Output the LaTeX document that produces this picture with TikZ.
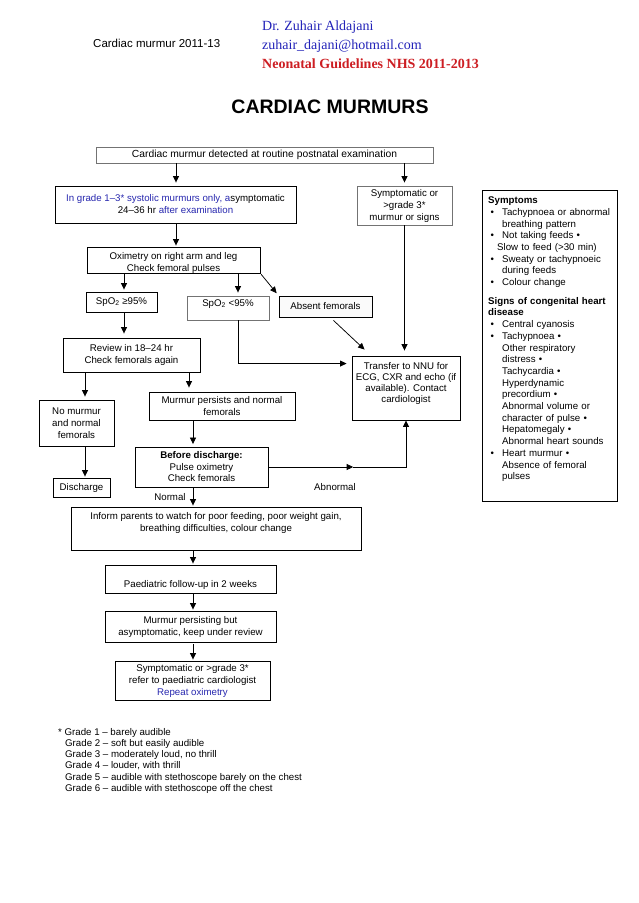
\documentclass[tikz,border=0pt]{standalone}
\usepackage{fontspec}
\setmainfont{Liberation Sans}
\newfontfamily\serifhd{Liberation Serif}
\usetikzlibrary{arrows.meta,calc}
\definecolor{dblue}{RGB}{40,40,175}
\definecolor{hblue}{RGB}{35,35,185}
\definecolor{hred}{RGB}{205,30,35}
\newcommand{\bxf}{\fontsize{9.7}{12}\selectfont}
\newcommand{\bul}{\makebox[14pt][l]{\hspace{2.5pt}\textbullet}}
\newcommand{\ind}{\hspace*{14pt}}
\begin{document}
\begin{tikzpicture}[x=1pt,y=-1pt,
  box/.style={draw, line width=0.9pt, rectangle, inner sep=0pt, align=center, font=\bxf},
  gbox/.style={box, draw=black!55},
  txt/.style={inner sep=0pt, align=center, font=\bxf},
  arr/.style={-{Triangle[length=6.5pt,width=6pt]}, line width=0.75pt},
  ln/.style={line width=0.75pt},
  hd/.style={anchor=base west, inner sep=0pt}]
\useasboundingbox (0,0) rectangle (638,903);
\fill[white] (0,0) rectangle (638,903);

% header
\node[hd, font=\fontsize{11.5}{13}\selectfont] (hd1) at (93,47) {Cardiac murmur 2011-13};
\node[hd, font=\serifhd\fontsize{14}{16}\selectfont, text=hblue] (hd2) at (262,30) {Dr. Zuhair Aldajani};
\node[hd, font=\serifhd\fontsize{14}{16}\selectfont, text=hblue] (hd3) at (262,49) {zuhair\_dajani@hotmail.com};
\node[hd, font=\serifhd\bfseries\fontsize{14}{16}\selectfont, text=hred] (hd4) at (262,68) {Neonatal Guidelines NHS 2011-2013};
\node[anchor=base, inner sep=0pt, font=\bfseries\fontsize{19.5}{22}\selectfont] (title) at (330,113) {CARDIAC MURMURS};

% x positions of vertical connectors
\coordinate (xA) at (176,0);
\coordinate (x124) at (124,0);
\coordinate (x238) at (238,0);
\coordinate (x85) at (85,0);
\coordinate (x189) at (189,0);
\coordinate (x193) at (193,0);

% boxes
\node[gbox, minimum width=337pt, minimum height=16pt, font=\fontsize{10.3}{12}\selectfont] (top) at (264.5,155) {Cardiac murmur detected at routine postnatal examination};
\node[box, minimum width=241pt, minimum height=37pt] (ingrade) at (175.5,204.5) {{\color{dblue}In grade 1–3* systolic murmurs only, a}symptomatic\\24–36 hr {\color{dblue}after examination}};
\node[gbox, minimum width=95pt, minimum height=39pt] (sympt) at (404.5,205.5) {Symptomatic or\\>grade 3*\\murmur or signs};

\node[box, minimum width=135pt, minimum height=311pt] (symbox) at (549.5,345.5) {};
\node[anchor=north west, inner sep=0pt, text width=128pt, align=left, font=\fontsize{9.7}{11.7}\selectfont] (symtext) at (488,195.3) {\strut\textbf{Symptoms}\\
\bul Tachypnoea or abnormal\\
\ind breathing pattern\\
\bul Not taking feeds \textbullet\\
\hspace*{9pt}Slow to feed (>30 min)\\
\bul Sweaty or tachypnoeic\\
\ind during feeds\\
\bul Colour change\\[7pt]
\textbf{Signs of congenital heart}\\
\textbf{disease}\\
\bul Central cyanosis\\
\bul Tachypnoea \textbullet\\
\ind Other respiratory\\
\ind distress \textbullet\\
\ind Tachycardia \textbullet\\
\ind Hyperdynamic\\
\ind precordium \textbullet\\
\ind Abnormal volume or\\
\ind character of pulse \textbullet\\
\ind Hepatomegaly \textbullet\\
\ind Abnormal heart sounds\\
\bul Heart murmur \textbullet\\
\ind Absence of femoral\\
\ind pulses};

\node[box, minimum width=173pt, minimum height=26pt] (oxi) at (173.5,260) {};
\node[txt] (oxit) at ($(oxi.center)+(0,2.5)$) {Oximetry on right arm and leg\\Check femoral pulses};
\node[box, minimum width=71pt, minimum height=20pt] (spa) at (121.5,302) {SpO\textsubscript{2} ≥95\%};
\node[gbox, minimum width=82pt, minimum height=24pt] (spb) at (228,308) {};
\node[txt] (spbt) at ($(spb.center)+(0,-4)$) {SpO\textsubscript{2} <95\%};
\node[box, minimum width=93pt, minimum height=21pt, fill=black!2] (absent) at (325.5,306.5) {Absent femorals};
\node[box, minimum width=137pt, minimum height=34pt] (review) at (131.5,355) {Review in 18–24 hr\\Check femorals again};
\node[box, minimum width=108pt, minimum height=64pt] (transfer) at (406,388) {};
\node[txt, font=\fontsize{9.7}{11}\selectfont] (transfert) at ($(transfer.center)+(0,-5)$) {Transfer to NNU for\\ECG, CXR and echo (if\\available). Contact\\cardiologist};
\node[box, minimum width=75pt, minimum height=46pt] (nomur) at (76.5,423) {No murmur\\and normal\\femorals};
\node[box, minimum width=146pt, minimum height=28pt] (persist) at (222,406) {Murmur persists and normal\\femorals};
\node[box, minimum width=133pt, minimum height=40pt, font=\fontsize{9.7}{11.5}\selectfont] (before) at (201.5,467) {\textbf{Before discharge:}\\Pulse oximetry\\Check femorals};
\node[box, minimum width=57pt, minimum height=19pt] (discharge) at (81.5,487.5) {Discharge};
\node[box, minimum width=290pt, minimum height=43pt] (inform) at (216,528.5) {};
\node[txt] (informt) at ($(inform.center)+(0,-6)$) {Inform parents to watch for poor feeding, poor weight gain,\\breathing difficulties, colour change};
\node[box, minimum width=171pt, minimum height=28pt] (paed) at (190.5,579) {};
\node[txt] (paedt) at ($(paed.center)+(0,5.5)$) {Paediatric follow-up in 2 weeks};
\node[box, minimum width=171pt, minimum height=31pt] (persisting) at (190.5,626.5) {Murmur persisting but\\asymptomatic, keep under review};
\node[box, minimum width=155pt, minimum height=39pt] (refer) at (192.5,680.5) {Symptomatic or >grade 3*\\refer to paediatric cardiologist\\{\color{dblue}Repeat oximetry}};

% labels
\node[txt] (abn) at (335,487) {Abnormal};
\node[txt] (norm) at (170,497) {Normal};

% connectors
\draw[arr, shorten >=3pt] (top.south -| xA) -- (ingrade.north -| xA);
\draw[arr, shorten >=3pt] (top.south -| sympt) -- (sympt.north);
\draw[arr, shorten >=1pt] (ingrade.south -| xA) -- (oxi.north -| xA);
\draw[arr, shorten >=2pt] (oxi.south -| x124) -- (spa.north -| x124);
\draw[arr, shorten >=3pt] (oxi.south -| x238) -- (spb.north -| x238);
\draw[arr, shorten <=1pt, shorten >=3pt] (oxi.south east) -- (absent.north west);
\draw[arr, shorten >=4pt] (spa.south -| x124) -- (review.north -| x124);
\draw[arr, shorten >=5pt] (spb.south -| x238) |- ($(transfer.north west)+(0,8)$);
\draw[arr] ($(absent.south)+(8,3)$) -- ($(transfer.north west)+(13,-6)$);
\draw[arr, shorten >=5pt] (sympt.south) -- (transfer.north -| sympt);
\draw[arr, shorten >=3pt] (review.south -| x85) -- (nomur.north -| x85);
\draw[arr, shorten >=4pt] (review.south -| x189) -- (persist.north -| x189);
\draw[arr, shorten >=2.5pt] (persist.south -| x193) -- (before.north -| x193);
\coordinate (mid) at ($(before.east)!0.616!(before.east -| transfer.south)$);
\draw[arr] (before.east) -- (mid);
\draw[arr] (mid) -| (transfer.south);
\draw[arr, shorten >=1pt] (nomur.south -| x85) -- (discharge.north -| x85);
\draw[arr, shorten >=1pt] (before.south -| x193) -- (inform.north -| x193);
\draw[arr, shorten >=1pt] (inform.south -| x193) -- (paed.north -| x193);
\draw[arr, shorten >=1pt] (paed.south -| x193) -- (persisting.north -| x193);
\draw[arr, shorten <=2pt, shorten >=1pt] (persisting.south -| x193) -- (refer.north -| x193);

% footnote
\begin{scope}[every node/.style={hd, font=\fontsize{9.7}{11}\selectfont}]
\node (fn1) at (58,735) {* Grade 1 – barely audible};
\node (fn2) at (65,746.3) {Grade 2 – soft but easily audible};
\node (fn3) at (65,757.6) {Grade 3 – moderately loud, no thrill};
\node (fn4) at (65,768.9) {Grade 4 – louder, with thrill};
\node (fn5) at (65,780.2) {Grade 5 – audible with stethoscope barely on the chest};
\node (fn6) at (65,791.5) {Grade 6 – audible with stethoscope off the chest};
\end{scope}
\end{tikzpicture}
\end{document}
